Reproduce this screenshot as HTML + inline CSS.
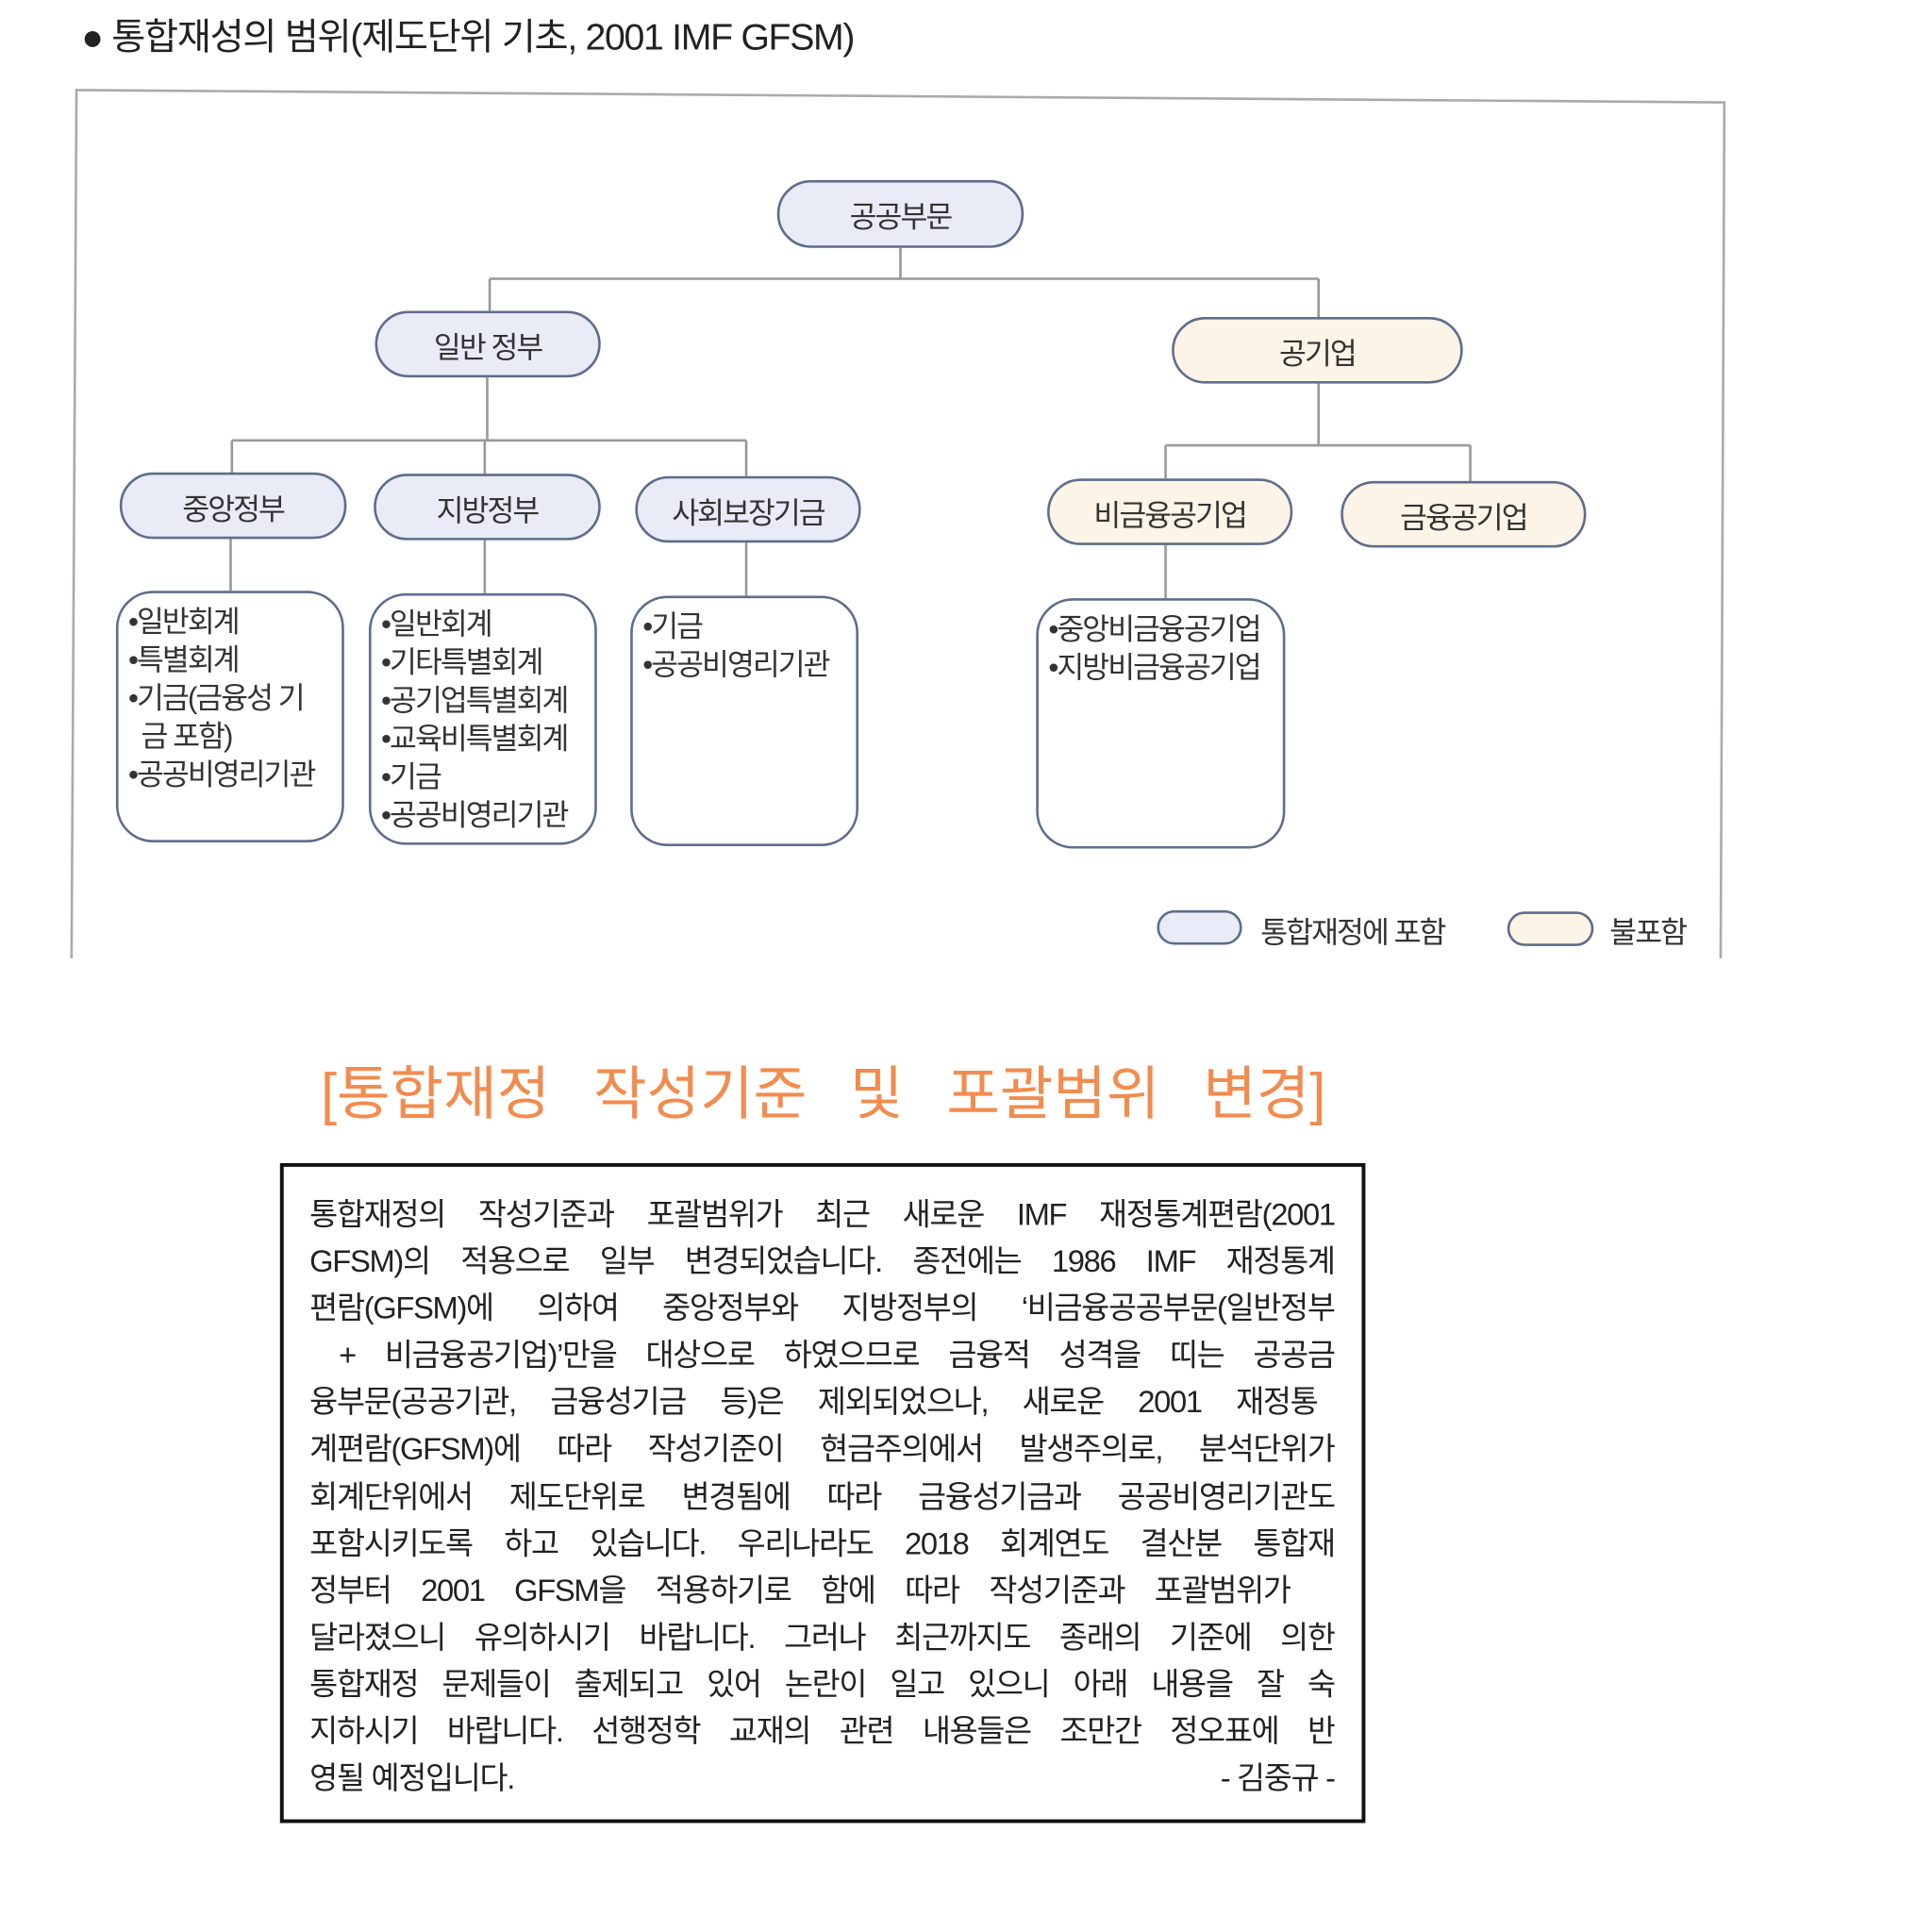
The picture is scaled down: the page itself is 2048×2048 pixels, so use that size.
<!DOCTYPE html>
<html><head><meta charset="utf-8">
<style>
html,body{margin:0;padding:0;background:#fff;width:2048px;height:2048px;overflow:hidden}
#w{position:absolute;left:0;top:0;width:1560px;height:1560px;transform:scale(1.3075);transform-origin:0 0;font-family:"Liberation Sans","Noto Sans CJK KR",sans-serif}
.t{position:absolute;white-space:nowrap}
.p{position:absolute;box-sizing:border-box;border:2px solid #5f6d8c;border-radius:28px;display:flex;align-items:center;justify-content:center;font-size:24px;color:#333;letter-spacing:-1.5px}
.b{background:#e9ebf7}.o{background:#fcf4e6}
.d{position:absolute;box-sizing:border-box;border:2px solid #5f6d8c;border-radius:30px;background:#fff;padding:8px 0 0 8px;font-size:24px;line-height:31px;color:#333;letter-spacing:-1.5px}
#tx{position:absolute;left:227px;top:943px;width:880px;height:535px;box-sizing:border-box;border:3px solid #111;padding:20px 22px 0 21px;font-size:25px;line-height:38.1px;color:#222;text-align:justify;text-align-last:justify;letter-spacing:-1px}
#tx div{height:38.1px;overflow:hidden}
</style></head><body><div id="w">
<div class="t" style="left:66px;top:5px;font-size:30px;color:#222;letter-spacing:-1px">● 통합재성의 범위(제도단위 기초, 2001 IMF GFSM)</div>
<svg style="position:absolute;left:0;top:0" width="1560" height="800">
<path d="M58 777 L62 73 L1398 83 L1395 777" fill="none" stroke="#aaa" stroke-width="2"/>
<g stroke="#999" stroke-width="2" fill="none">
<path d="M730 201V226M397 226H1069M397 226V252M1069 226V257"/>
<path d="M395 306V357M188 357H605M188 357V383M393 357V384M605 357V386"/>
<path d="M1069 311V361M945 361H1192M945 361V388M1192 361V390"/>
<path d="M187 437V479M393 438V481M605 440V483M945 442V485"/>
</g></svg>
<div class="p b" style="left:630px;top:146px;width:200px;height:55px">공공부문</div>
<div class="p b" style="left:304px;top:252px;width:183px;height:54px">일반 정부</div>
<div class="p o" style="left:950px;top:257px;width:236px;height:54px">공기업</div>
<div class="p b" style="left:97px;top:383px;width:184px;height:54px">중앙정부</div>
<div class="p b" style="left:303px;top:384px;width:184px;height:54px">지방정부</div>
<div class="p b" style="left:515px;top:386px;width:183px;height:54px">사회보장기금</div>
<div class="p o" style="left:849px;top:388px;width:199px;height:54px">비금융공기업</div>
<div class="p o" style="left:1087px;top:390px;width:199px;height:54px">금융공기업</div>
<div class="d" style="left:94px;top:479px;width:185px;height:204px">•일반회계<br>•특별회계<br>•기금(금융성 기<br>&nbsp;&nbsp;금 포함)<br>•공공비영리기관</div>
<div class="d" style="left:299px;top:481px;width:185px;height:204px">•일반회계<br>•기타특별회계<br>•공기업특별회계<br>•교육비특별회계<br>•기금<br>•공공비영리기관</div>
<div class="d" style="left:511px;top:483px;width:185px;height:203px">•기금<br>•공공비영리기관</div>
<div class="d" style="left:840px;top:485px;width:202px;height:203px">•중앙비금융공기업<br>•지방비금융공기업</div>
<div style="position:absolute;left:938px;top:738px;width:69px;height:28px;box-sizing:border-box;border:2px solid #5f6d8c;border-radius:14px;background:#e9ebf7"></div>
<div class="t" style="left:1022px;top:736px;font-size:24px;color:#333;letter-spacing:-1.5px">통합재정에 포함</div>
<div style="position:absolute;left:1222px;top:739px;width:70px;height:28px;box-sizing:border-box;border:2px solid #5f6d8c;border-radius:14px;background:#fcf4e6"></div>
<div class="t" style="left:1305px;top:736px;font-size:24px;color:#333;letter-spacing:-1.5px">불포함</div>
<div class="t" style="left:260px;top:848px;font-size:47px;color:#f28c4e;word-spacing:22px">[통합재정 작성기준 및 포괄범위 변경]</div>
<div id="tx">
<div>통합재정의 작성기준과 포괄범위가 최근 새로운 IMF 재정통계편람(2001</div>
<div>GFSM)의 적용으로 일부 변경되었습니다. 종전에는 1986 IMF 재정통계</div>
<div>편람(GFSM)에 의하여 중앙정부와 지방정부의 ‘비금융공공부문(일반정부</div>
<div>&nbsp;+ 비금융공기업)’만을 대상으로 하였으므로 금융적 성격을 띠는 공공금</div>
<div style="padding-right:14px">융부문(공공기관, 금융성기금 등)은 제외되었으나, 새로운 2001 재정통</div>
<div>계편람(GFSM)에 따라 작성기준이 현금주의에서 발생주의로, 분석단위가</div>
<div>회계단위에서 제도단위로 변경됨에 따라 금융성기금과 공공비영리기관도</div>
<div>포함시키도록 하고 있습니다. 우리나라도 2018 회계연도 결산분 통합재</div>
<div style="padding-right:36px">정부터 2001 GFSM을 적용하기로 함에 따라 작성기준과 포괄범위가</div>
<div>달라졌으니 유의하시기 바랍니다. 그러나 최근까지도 종래의 기준에 의한</div>
<div>통합재정 문제들이 출제되고 있어 논란이 일고 있으니 아래 내용을 잘 숙</div>
<div>지하시기 바랍니다. 선행정학 교재의 관련 내용들은 조만간 정오표에 반</div>
<div style="text-align-last:left">영될 예정입니다.<span style="float:right">- 김중규 -</span></div>
</div>
</div></body></html>
